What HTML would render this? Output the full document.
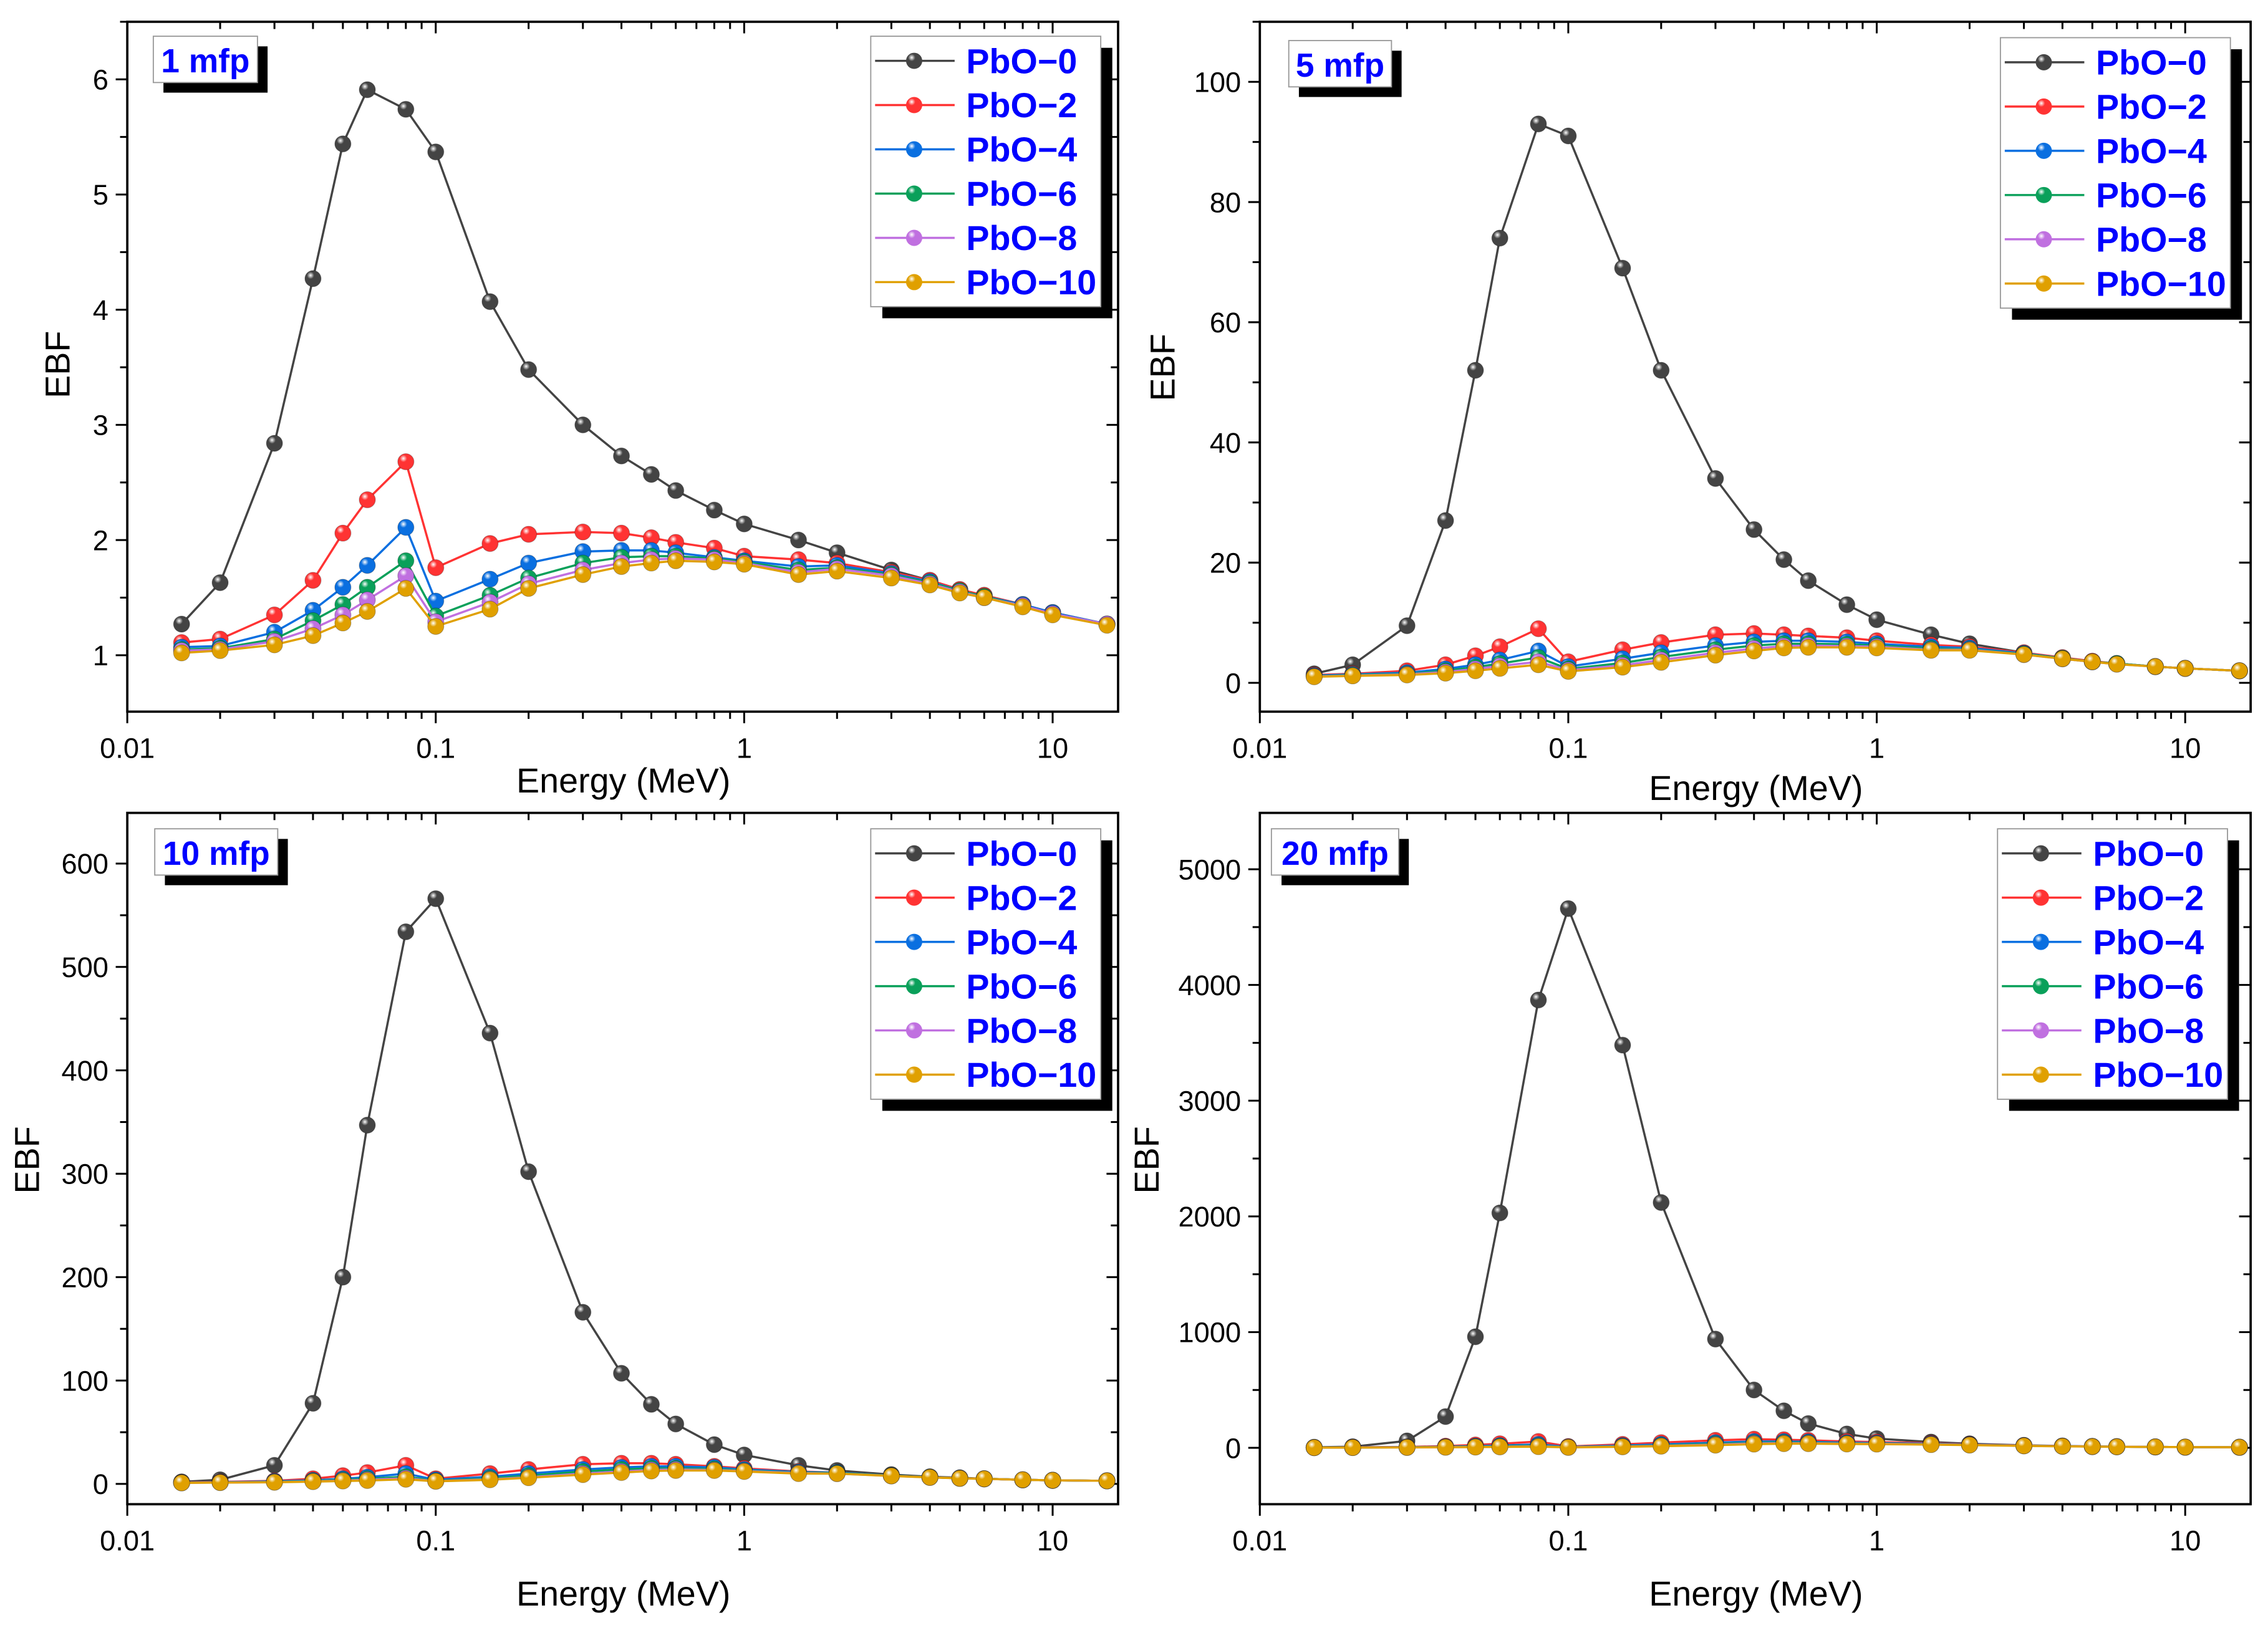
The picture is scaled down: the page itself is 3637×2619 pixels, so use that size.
<!DOCTYPE html>
<html><head><meta charset="utf-8">
<style>
html,body{margin:0;padding:0;background:#fff;}
svg{display:block;}
text{font-family:"Liberation Sans",Arial,sans-serif;}
</style></head>
<body>
<svg id="fig" width="3637" height="2619" viewBox="0 0 1568 1129" xmlns="http://www.w3.org/2000/svg">
<defs>
</defs>
</svg>
<script>
const energies=[0.015,0.02,0.03,0.04,0.05,0.06,0.08,0.1,0.15,0.2,0.3,0.4,0.5,0.6,0.8,1,1.5,2,3,4,5,6,8,10,15];
const seriesNames=["PbO\u22120","PbO\u22122","PbO\u22124","PbO\u22126","PbO\u22128","PbO\u221210"];
const seriesColors=["#444444","#ff3333","#0a6fe0","#0aa05a","#c070e0","#e0a000"];
// 1 mfp
const p1_s0=[1.27,1.63,2.84,4.27,5.44,5.91,5.74,5.37,4.07,3.48,3.0,2.73,2.57,2.43,2.26,2.14,2.0,1.89,1.74,1.65,1.57,1.52,1.44,1.37,1.27];
const p1_s2=[1.11,1.14,1.35,1.65,2.06,2.35,2.68,1.76,1.97,2.05,2.07,2.06,2.02,1.98,1.93,1.86,1.83,1.80,1.72,1.65,1.57,1.52,1.44,1.37,1.27];
const p1_s4=[1.07,1.08,1.2,1.39,1.59,1.78,2.11,1.47,1.66,1.80,1.90,1.91,1.91,1.89,1.85,1.82,1.77,1.78,1.71,1.64,1.56,1.51,1.44,1.37,1.27];
const p1_s6=[1.05,1.06,1.14,1.30,1.44,1.59,1.82,1.34,1.52,1.67,1.80,1.85,1.86,1.86,1.84,1.81,1.74,1.76,1.70,1.63,1.56,1.51,1.43,1.36,1.27];
const p1_s8=[1.04,1.05,1.12,1.23,1.35,1.48,1.69,1.29,1.46,1.62,1.74,1.80,1.83,1.84,1.83,1.80,1.72,1.75,1.69,1.62,1.55,1.50,1.43,1.36,1.27];
const p1_s10=[1.02,1.04,1.09,1.17,1.28,1.38,1.58,1.25,1.40,1.58,1.70,1.77,1.80,1.82,1.81,1.79,1.70,1.73,1.67,1.61,1.54,1.50,1.42,1.35,1.26];
// 5 mfp
const p2_s0=[1.5,3,9.5,27,52,74,93,91,69,52,34,25.5,20.5,17,13,10.5,8,6.5,5,4,3.5,3.2,2.7,2.4,2];
const p2_s2=[1.3,1.5,2,3,4.5,6,9,3.5,5.5,6.7,8,8.2,8,7.8,7.5,7,6.3,6,5,4.2,3.6,3.2,2.7,2.4,2];
const p2_s4=[1.2,1.4,1.7,2.3,3,3.8,5.3,2.7,4,5,6.2,6.8,7,7,6.8,6.5,6,5.8,4.9,4.1,3.5,3.2,2.7,2.4,2];
const p2_s6=[1.1,1.3,1.5,2,2.6,3.2,4.2,2.3,3.3,4.3,5.5,6.2,6.5,6.5,6.4,6.2,5.7,5.6,4.8,4.1,3.5,3.2,2.7,2.4,2];
const p2_s8=[1.05,1.2,1.4,1.8,2.3,2.8,3.5,2.1,2.9,3.8,5,5.7,6.1,6.2,6.1,6,5.5,5.5,4.7,4,3.5,3.1,2.7,2.4,2];
const p2_s10=[1,1.15,1.3,1.6,2,2.4,3,1.9,2.6,3.4,4.6,5.3,5.8,5.9,5.9,5.8,5.4,5.4,4.7,4,3.5,3.1,2.7,2.4,2];
// 10 mfp
const p3_s0=[2,4,18,78,200,347,534,566,436,302,166,107,77,58,38,28,18,13,9,7,6,5,4,3.5,3];
const p3_s2=[1.5,2,3,5,8,11,18,5,10,14,19,20,20,19,17,15,12,11,8,6.5,5.5,5,4,3.5,3];
const p3_s4=[1.3,1.7,2.5,3.5,5,6.5,10,4,7,10,14,16,17,17,16,14,11.5,11,8,6.5,5.5,5,4,3.5,3];
const p3_s6=[1.2,1.5,2,3,4,5,7,3,5.5,8,12,14,15,15,14.5,13,11,10.5,8,6.5,5.5,5,4,3.5,3];
const p3_s8=[1.1,1.4,1.8,2.5,3.3,4,5.5,2.7,4.5,6.5,10,12,13.5,14,13.5,12.5,10.5,10,7.8,6.4,5.5,4.9,4,3.5,3];
const p3_s10=[1,1.3,1.6,2.2,2.8,3.3,4.5,2.5,4,6,9,11,12.5,13,13,12,10,10,7.7,6.3,5.4,4.9,4,3.5,3];
// 20 mfp
const p4_s0=[5,10,60,270,960,2030,3870,4660,3480,2120,940,500,320,210,120,80,50,35,22,16,12,10,8,6,5];
const p4_s2=[3,5,8,15,25,35,55,12,30,45,65,75,70,65,55,50,40,30,20,15,12,10,8,6,5];
const p4_s4=[2.5,4,6,10,15,20,30,8,20,30,45,55,55,52,45,42,35,28,19,15,12,10,8,6,5];
const p4_s6=[2,3,5,8,11,14,20,6,14,22,35,45,47,45,40,38,32,26,18,14,11,10,8,6,5];
const p4_s8=[1.8,2.8,4,6,8,10,14,5,11,17,28,38,40,40,36,35,30,25,18,14,11,10,8,6,5];
const p4_s10=[1.5,2.5,3.5,5,6.5,8,10,4,9,14,23,32,36,36,33,32,28,24,17,13,11,9,8,6,5];
const p1_yticks=[1,2,3,4,5,6];
const p2_yticks=[0,20,40,60,80,100];
const p3_yticks=[0,100,200,300,400,500,600];
const p4_yticks=[0,1000,2000,3000,4000,5000];
const xticks=[0.01,0.1,1,10];

const NS="http://www.w3.org/2000/svg";
const svg=document.getElementById('fig');
const defs=svg.querySelector('defs');
seriesColors.forEach((c,i)=>{
  const g=document.createElementNS(NS,'radialGradient');
  g.setAttribute('id','ball'+i);g.setAttribute('cx','0.35');g.setAttribute('cy','0.3');g.setAttribute('r','0.75');
  g.innerHTML='<stop offset="0" stop-color="#fff"/><stop offset="0.3" stop-color="'+c+'"/><stop offset="1" stop-color="'+c+'"/>';
  defs.appendChild(g);
});
function el(tag,attrs,parent){const e=document.createElementNS(NS,tag);for(const k in attrs)e.setAttribute(k,attrs[k]);(parent||svg).appendChild(e);return e;}

const panels=[
 {key:'1-mfp',label:'1 mfp',x0:88,x1:773,y0:15,y1:492,ymin:0.51,ymax:6.5,yt:p1_yticks,yminor:0.5,data:[p1_s0,p1_s2,p1_s4,p1_s6,p1_s8,p1_s10],lab:[106,25,72,32],leg:[602,25],ebf:[48,252],en:[431,548]},
 {key:'5-mfp',label:'5 mfp',x0:871,x1:1556,y0:15,y1:492,ymin:-4.8,ymax:110,yt:p2_yticks,yminor:10,data:[p2_s0,p2_s2,p2_s4,p2_s6,p2_s8,p2_s10],lab:[891,28,71,32],leg:[1383,26],ebf:[812,254],en:[1214,553]},
 {key:'10-mfp',label:'10 mfp',x0:88,x1:773,y0:562,y1:1040,ymin:-19.6,ymax:649,yt:p3_yticks,yminor:50,data:[p3_s0,p3_s2,p3_s4,p3_s6,p3_s8,p3_s10],lab:[107,573,85,32],leg:[602,573],ebf:[27,802],en:[431,1110]},
 {key:'20-mfp',label:'20 mfp',x0:871,x1:1556,y0:562,y1:1040,ymin:-487,ymax:5487,yt:p4_yticks,yminor:500,data:[p4_s0,p4_s2,p4_s4,p4_s6,p4_s8,p4_s10],lab:[879,573,88,32],leg:[1381,573],ebf:[801,802],en:[1214,1110]}
];
panels.forEach(P=>{
  const g=el('g',{});
  
  
  const dec=(P.x1-P.x0)/(Math.log10(16.3)+2);
  const X=v=>P.x0+(Math.log10(v)+2)*dec;
  const Y=v=>P.y1-(v-P.ymin)/(P.ymax-P.ymin)*(P.y1-P.y0);
  const frame=el('rect',{x:P.x0,y:P.y0,width:P.x1-P.x0,height:P.y1-P.y0,fill:'none',stroke:'#000','stroke-width':1.6},g);
  
  
  for(let d=-2;d<=1;d++){for(let m=1;m<10;m++){const v=m*Math.pow(10,d);if(v>16.3)break;const x=X(v);const L=m===1?8:5;
    el('line',{x1:x,x2:x,y1:P.y1,y2:P.y1+L,stroke:'#000','stroke-width':1.3},g);
    el('line',{x1:x,x2:x,y1:P.y0,y2:P.y0+L,stroke:'#000','stroke-width':1.3},g);}}
  xticks.forEach(v=>{const t=el('text',{x:X(v),y:P.y1+32,'font-size':19.5,'text-anchor':'middle'},g);t.textContent=String(v);
    });
  for(let v=P.yt[0]-P.yminor*Math.floor((P.yt[0]-P.ymin)/P.yminor);v<=P.ymax;v+=P.yminor){const y=Y(v);
    const major=P.yt.some(t=>Math.abs(t-v)<1e-6);const L=major?8:5;
    el('line',{x1:P.x0-L,x2:P.x0,y1:y,y2:y,stroke:'#000','stroke-width':1.3},g);
    el('line',{x1:P.x1-L,x2:P.x1,y1:y,y2:y,stroke:'#000','stroke-width':1.3},g);}
  P.yt.forEach(v=>{const t=el('text',{x:P.x0-13,y:Y(v)+7,'font-size':19.5,'text-anchor':'end'},g);t.textContent=String(v);
    });
  const yt=el('text',{x:P.ebf[0],y:P.ebf[1],'font-size':24,'text-anchor':'middle',transform:'rotate(-90 '+P.ebf[0]+' '+P.ebf[1]+')'},g);
  yt.textContent='EBF';
  
  const xt=el('text',{x:P.en[0],y:P.en[1],'font-size':24,'text-anchor':'middle'},g);
  xt.textContent='Energy (MeV)';
  
  P.data.forEach((arr,i)=>{
    const sg=el('g',{},g);
    
    
    const pts=arr.map((v,k)=>X(energies[k]).toFixed(2)+','+Y(v).toFixed(2)).join(' ');
    const pl=el('polyline',{points:pts,fill:'none',stroke:seriesColors[i],'stroke-width':1.5},sg);
    
    arr.forEach((v,k)=>{const c=el('circle',{cx:X(energies[k]),cy:Y(v),r:5.6,fill:'url(#ball'+i+')',stroke:'rgba(0,0,0,0.25)','stroke-width':0.5},sg);
      });
  });
  const [lx,ly,lw,lh]=P.lab;
  const lg=el('g',{},g);
  
  el('rect',{x:lx+7,y:ly+7,width:lw,height:lh,fill:'#000'},lg);
  el('rect',{x:lx,y:ly,width:lw,height:lh,fill:'#fff',stroke:'#999','stroke-width':0.8},lg);
  const lt=el('text',{x:lx+lw/2,y:ly+25,'font-size':23,'font-weight':'bold',fill:'#0000ff','text-anchor':'middle'},lg);
  lt.textContent=P.label;
  const [gx,gy]=P.leg;
  const leg=el('g',{},g);
  
  el('rect',{x:gx+8,y:gy+8,width:159,height:187,fill:'#000'},leg);
  el('rect',{x:gx,y:gy,width:159,height:187,fill:'#fff',stroke:'#999','stroke-width':0.8},leg);
  seriesNames.forEach((n,i)=>{
    const e=el('g',{},leg);
    
    const yy=gy+17+i*30.6;
    el('line',{x1:gx+3,x2:gx+58,y1:yy,y2:yy,stroke:seriesColors[i],'stroke-width':1.5},e);
    el('circle',{cx:gx+30,cy:yy,r:5.6,fill:'url(#ball'+i+')'},e);
    const t=el('text',{x:gx+66,y:yy+8.5,'font-size':24,'font-weight':'bold',fill:'#0000ff'},e);
    t.textContent=n;
  });
});
</script>
</body></html>
